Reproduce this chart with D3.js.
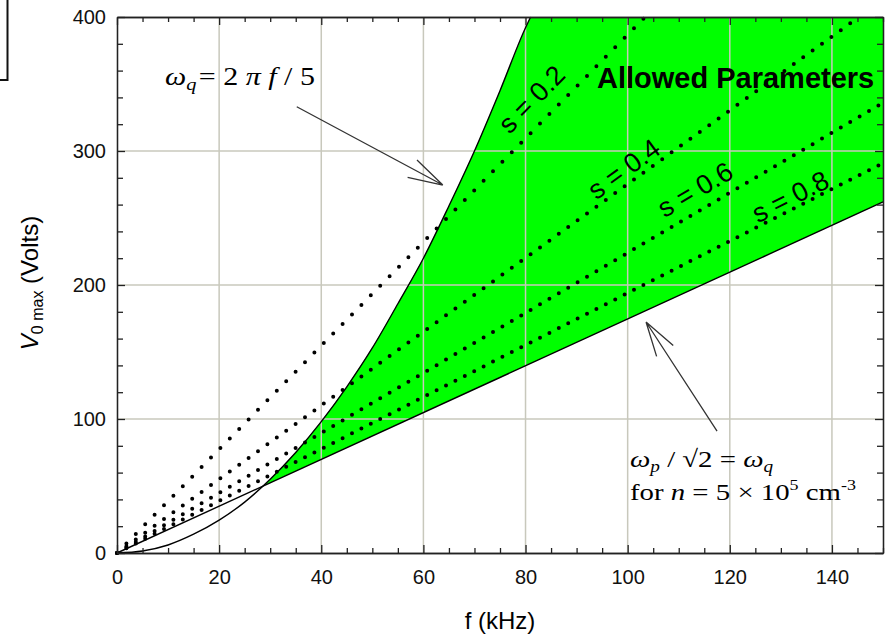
<!DOCTYPE html>
<html>
<head>
<meta charset="utf-8">
<script src="https://cdn.jsdelivr.net/npm/d3@7"></script>
<style>
body { margin: 0; background: #fff; }
svg { display: block; }
.tick text { font-family: "Liberation Sans", Arial, sans-serif; font-size: 20px; fill: #111; }
.axis path, .axis line { stroke: #222; stroke-width: 1.3; }
.serif { font-family: "Liberation Serif", "Times New Roman", serif; fill: #000; }
.sans { font-family: "Liberation Sans", Arial, sans-serif; fill: #000; }
</style>
</head>
<body>
<div id="chart-area"></div>
<script>
/*
*    V0max vs f, allowed parameters
*/

var margin = {top: 17, right: 2, bottom: 82, left: 117};
var width = 766;
var height = 536;

// ticks
var xMajor = [0, 20, 40, 60, 80, 100, 120, 140];
var yMajor = [0, 100, 200, 300, 400];

// w_q = 2 pi f / 5 curve
var curveF = [0, 5, 10, 15, 20, 25, 30, 35, 40, 45, 50, 55, 60, 65, 70, 75, 80, 81];
var curveV = [0, 1.5, 6, 14, 24.5, 38, 55, 75, 98, 124, 153, 186, 220, 259, 300, 345, 392, 400];

// w_p / sqrt2 = w_q line
var limitF = [0, 150];
var limitV = [0, 262];
var crossF = 28.8, crossV = 50.3;

// dotted s lines (end points)
var sValues = [0.2, 0.4, 0.6, 0.8];
var sEndF = [103.4, 145.3, 150, 150];
var sEndV = [400, 400, 336, 291];
var sLabelF = [81.7, 99.7, 113.6, 132.2];
var sLabelV = [336.6, 284.3, 268.7, 263.4];

// arrows
var arrowFrom = [[35.2, 333], [117.5, 91]];
var arrowTo = [[63.8, 274.6], [103.6, 172.4]];

var svg = d3.select('#chart-area')
    .append('svg')
        .attr('width', 885)
        .attr('height', 635);

// partly hidden box, top left
svg.append('rect')
    .attr('x', -10).attr('y', -10)
    .attr('width', 17.5).attr('height', 90)
    .attr('fill', 'none')
    .attr('stroke', '#111')
    .attr('stroke-width', 2);

var g = svg.append('g')
    .attr('transform', 'translate(' + margin.left + ', ' + margin.top + ')');

var x = d3.scaleLinear().domain([0, 150]).range([0, width]);
var y = d3.scaleLinear().domain([0, 400]).range([height, 0]);

var curve = curveF.map((f, i) => [f, curveV[i]]);
var smooth = d3.line().curve(d3.curveMonotoneX).x((d) => x(d[0])).y((d) => y(d[1]));

// allowed region
var region = [[crossF, crossV]]
    .concat(curve.filter((d) => d[0] > crossF))
    .concat([[150, 400], [limitF[1], limitV[1]]]);

g.append('path')
    .attr('d', d3.line().x((d) => x(d[0])).y((d) => y(d[1]))(region) + 'Z')
    .attr('fill', '#00ff00');

// grid
g.selectAll('.gx').data(xMajor.filter((d) => d > 0))
    .enter().append('line')
    .attr('x1', (d) => x(d)).attr('x2', (d) => x(d))
    .attr('y1', 0).attr('y2', height)
    .attr('stroke', '#c8c8bc').attr('stroke-width', 1.5);
g.selectAll('.gy').data(yMajor.filter((d) => d > 0 && d < 400))
    .enter().append('line')
    .attr('y1', (d) => y(d)).attr('y2', (d) => y(d))
    .attr('x1', 0).attr('x2', width)
    .attr('stroke', '#c8c8bc').attr('stroke-width', 1.5);

var line = d3.line().x((d) => x(d[0])).y((d) => y(d[1]));

// dotted s lines, dots in equal f columns
sValues.forEach((s, i) => {
    var dx = x(sEndF[i]) - x(0);
    var dy = y(sEndV[i]) - y(0);
    var len = Math.sqrt(dx * dx + dy * dy);
    var gap = 9.4 * len / dx;
    g.append('path')
        .attr('d', line([[0, 0], [sEndF[i], sEndV[i]]]))
        .attr('fill', 'none')
        .attr('stroke', '#000')
        .attr('stroke-width', 4)
        .attr('stroke-linecap', 'round')
        .attr('stroke-dasharray', '0,' + gap);

    var ang = Math.atan2(dy, dx) * 180 / Math.PI;
    g.append('text')
        .attr('class', 'sans')
        .attr('transform', 'translate(' + x(sLabelF[i]) + ',' + y(sLabelV[i]) + ') rotate(' + ang + ')')
        .attr('text-anchor', 'middle')
        .attr('y', -4)
        .attr('dy', '0.35em')
        .attr('font-size', '27px')
        .text('s = ' + s);
});

// curves
g.append('path')
    .attr('d', smooth(curve))
    .attr('fill', 'none').attr('stroke', '#000').attr('stroke-width', 1.4);
g.append('path')
    .attr('d', line(limitF.map((f, i) => [f, limitV[i]])))
    .attr('fill', 'none').attr('stroke', '#000').attr('stroke-width', 1.4);

// axes
var xMinor = d3.range(0, 151, 5).filter((d) => d % 20 != 0);
var yMinor = d3.range(0, 401, 20).filter((d) => d % 100 != 0);

g.append('g').attr('class', 'axis')
    .attr('transform', 'translate(0, ' + height + ')')
    .call(d3.axisBottom(x).tickValues(xMajor).tickSize(-8).tickSizeOuter(0).tickPadding(17));
g.append('g').attr('class', 'axis')
    .attr('transform', 'translate(0, ' + height + ')')
    .call(d3.axisBottom(x).tickValues(xMinor).tickSize(-5).tickSizeOuter(0).tickFormat(''));
g.append('g').attr('class', 'axis')
    .call(d3.axisTop(x).tickValues(xMajor).tickSize(-8).tickSizeOuter(0).tickFormat(''));
g.append('g').attr('class', 'axis')
    .call(d3.axisTop(x).tickValues(xMinor).tickSize(-5).tickSizeOuter(0).tickFormat(''));

g.append('g').attr('class', 'axis')
    .call(d3.axisLeft(y).tickValues(yMajor).tickSize(-8).tickSizeOuter(0).tickPadding(11));
g.append('g').attr('class', 'axis')
    .call(d3.axisLeft(y).tickValues(yMinor).tickSize(-6).tickSizeOuter(0).tickFormat(''));
g.append('g').attr('class', 'axis')
    .attr('transform', 'translate(' + width + ', 0)')
    .call(d3.axisRight(y).tickValues(yMajor).tickSize(-8).tickSizeOuter(0).tickFormat(''));
g.append('g').attr('class', 'axis')
    .attr('transform', 'translate(' + width + ', 0)')
    .call(d3.axisRight(y).tickValues(yMinor).tickSize(-6).tickSizeOuter(0).tickFormat(''));

// arrows
arrowFrom.forEach((a, i) => {
    var x0 = x(a[0]), y0 = y(a[1]);
    var x1 = x(arrowTo[i][0]), y1 = y(arrowTo[i][1]);
    var back = Math.atan2(y0 - y1, x0 - x1);
    var d = 'M' + x0 + ',' + y0 + 'L' + x1 + ',' + y1;
    [-1, 1].forEach((k) => {
        var t = back + k * 16 * Math.PI / 180;
        d += 'M' + x1 + ',' + y1 + 'L' + (x1 + 36 * Math.cos(t)) + ',' + (y1 + 36 * Math.sin(t));
    });
    g.append('path').attr('d', d)
        .attr('fill', 'none').attr('stroke', '#333').attr('stroke-width', 1.3);
});

// annotations
g.append('text')
    .attr('class', 'sans')
    .attr('x', 597 - margin.left).attr('y', 88 - margin.top)
    .attr('font-size', '29px')
    .attr('font-weight', 'bold')
    .text('Allowed Parameters');

var wq = svg.append('text')
    .attr('class', 'serif')
    .attr('transform', 'translate(165, 85) scale(1.2, 1)')
    .attr('font-size', '25px');
wq.append('tspan').attr('font-style', 'italic').text('ω');
wq.append('tspan').attr('font-style', 'italic').attr('font-size', '17px').attr('dy', 5).text('q');
wq.append('tspan').attr('dy', -5).attr('dx', 2).text('= 2 ');
wq.append('tspan').attr('font-style', 'italic').text('π f');
wq.append('tspan').text(' / 5');

var wp = svg.append('text')
    .attr('class', 'serif')
    .attr('transform', 'translate(630, 467) scale(1.2, 1)')
    .attr('font-size', '24px');
wp.append('tspan').attr('font-style', 'italic').text('ω');
wp.append('tspan').attr('font-style', 'italic').attr('font-size', '16px').attr('dy', 5).text('p');
wp.append('tspan').attr('dy', -5).text(' / √2 = ');
wp.append('tspan').attr('font-style', 'italic').text('ω');
wp.append('tspan').attr('font-style', 'italic').attr('font-size', '16px').attr('dy', 5).text('q');

var nn = svg.append('text')
    .attr('class', 'serif')
    .attr('transform', 'translate(630, 500) scale(1.2, 1)')
    .attr('font-size', '24px');
nn.append('tspan').text('for ');
nn.append('tspan').attr('font-style', 'italic').text('n');
nn.append('tspan').text(' = 5 × 10');
nn.append('tspan').attr('font-size', '15px').attr('dy', -10).text('5');
nn.append('tspan').attr('dy', 10).text(' cm');
nn.append('tspan').attr('font-size', '15px').attr('dy', -10).text('-3');

// axis titles
svg.append('text')
    .attr('class', 'sans')
    .attr('x', 500).attr('y', 629)
    .attr('text-anchor', 'middle')
    .attr('font-size', '24px')
    .text('f (kHz)');

var yt = svg.append('text')
    .attr('class', 'sans')
    .attr('transform', 'translate(38, 283) rotate(-90)')
    .attr('text-anchor', 'middle')
    .attr('font-size', '24px');
yt.append('tspan').attr('font-style', 'italic').text('V');
yt.append('tspan').attr('font-size', '16px').attr('dy', 5).text('0 max');
yt.append('tspan').attr('dy', -5).text(' (Volts)');
</script>
</body>
</html>
